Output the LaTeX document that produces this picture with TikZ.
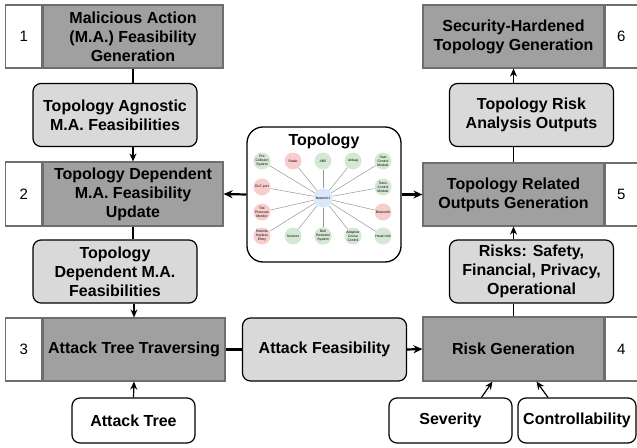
\documentclass[tikz,border=0pt]{standalone}
\usepackage{fontspec}
\setmainfont{Liberation Sans}
\usetikzlibrary{shapes.geometric, arrows.meta, positioning, fit, backgrounds}
\definecolor{stepcolor}{RGB}{160, 160, 160}
\definecolor{stepborder}{RGB}{110, 110, 110}
\definecolor{datacolor}{RGB}{217, 217, 217}
\definecolor{safecolor}{RGB}{213, 232, 212}
\definecolor{unsafecolor}{RGB}{248, 206, 204}
\definecolor{netcolor}{RGB}{218, 232, 252}
\definecolor{spokecolor}{RGB}{150, 150, 150}
\newcommand{\boxfont}{\fontsize{16}{19}\selectfont\bfseries}
\newcommand{\ecufont}{\fontsize{3.4}{3.9}\selectfont}
\tikzstyle{stepbox} = [rectangle, minimum width=180pt, minimum height=63pt, align=center, draw=stepborder, fill=stepcolor, line width=1.2pt, font=\boxfont]
\tikzstyle{numcell} = [rectangle, minimum width=36pt, minimum height=63pt, draw=stepborder, fill=white, line width=1.2pt, font=\fontsize{15}{18}\selectfont]
\tikzstyle{databox} = [rectangle, rounded corners=8pt, minimum width=164pt, minimum height=63pt, align=center, draw=black, fill=datacolor, line width=1.2pt, font=\boxfont]
\tikzstyle{inputbox} = [rectangle, rounded corners=8pt, minimum width=123pt, minimum height=45pt, align=center, draw=black, fill=white, line width=1.2pt, font=\boxfont]
\tikzstyle{topobox} = [rectangle, rounded corners=16pt, minimum width=154pt, minimum height=135pt, draw=black, line width=1.3pt]
\tikzstyle{ecu} = [circle, minimum size=17pt, inner sep=0pt, align=center, font=\ecufont]
\tikzstyle{spoke} = [spokecolor, line width=0.5pt]
\tikzstyle{link} = [line width=1.2pt]
\tikzstyle{arrow} = [line width=1.2pt, -{Stealth[length=8pt, width=7pt]}]
\tikzstyle{bigarrow} = [line width=2.2pt, -{Stealth[length=9pt, width=8pt]}]

\begin{document}
\begin{tikzpicture}[x=1pt, y=-1pt]
\useasboundingbox (0,0) rectangle (637,447);

% Colonne gauche
\node (step1) [stepbox] at (133,36.5) {Malicious Action\\(M.A.) Feasibility\\Generation};
\node (num1) [numcell, left=0pt of step1] {1};
\node (ta) [databox] at (115,115) {Topology Agnostic\\M.A. Feasibilities};
\node (step2) [stepbox, minimum height=64pt] at (133,194) {Topology Dependent\\M.A. Feasibility\\Update};
\node (num2) [numcell, minimum height=64pt, left=0pt of step2] {2};
\node (td) [databox] at (115,271.5) {Topology\\Dependent M.A.\\Feasibilities};
\node (step3) [stepbox, minimum width=182pt] at (134,349.5) {Attack Tree Traversing};
\node (num3) [numcell, left=0pt of step3] {3};
\node (atree) [inputbox] at (133.5,420.5) {Attack Tree};

% Milieu
\node (afeas) [databox] at (324.5,349.5) {Attack Feasibility};
\node (topo) [topobox] at (324,194.5) {};
\node (topotitle) [font=\boxfont] at (324,141) {Topology};

% Topologie
\node (net) [ecu, fill=netcolor, minimum size=19pt] at (323,198) {Network1};
\node (pcs) [ecu, fill=safecolor] at (262,161) {Pre\\Collision\\System};
\node (radio) [ecu, fill=unsafecolor] at (293,161) {Radio};
\node (abs) [ecu, fill=safecolor] at (323,161) {ABS};
\node (airbag) [ecu, fill=safecolor] at (353,161) {Airbag};
\node (seat) [ecu, fill=safecolor] at (383,161) {Seat\\Control\\Module};
\node (dlc) [ecu, fill=unsafecolor] at (262,187) {DLC port};
\node (tcm) [ecu, fill=safecolor] at (383,187) {Trans.\\Control\\Module};
\node (tpm) [ecu, fill=unsafecolor] at (262,212) {Tire\\Pressure\\Monitor};
\node (bt) [ecu, fill=unsafecolor] at (383,212) {Bluetooth};
\node (rke) [ecu, fill=unsafecolor] at (262,236) {Remote\\Keyless\\Entry};
\node (sensors) [ecu, fill=safecolor] at (293,236) {Sensors};
\node (brs) [ecu, fill=safecolor] at (323,236) {Belt\\Restraint\\System};
\node (acc) [ecu, fill=safecolor] at (353,236) {Adaptive\\Cruise\\Control};
\node (hu) [ecu, fill=safecolor] at (383,236) {Head Unit};
\foreach \n in {pcs, radio, abs, airbag, seat, dlc, tcm, tpm, bt, rke, sensors, brs, acc, hu}
  \draw [spoke] (net) -- (\n);

% Colonne droite
\node (step6) [stepbox, minimum width=181pt] at (513.5,36.5) {Security-Hardened\\Topology Generation};
\node (num6) [numcell, minimum width=32pt, right=0pt of step6] {6};
\node (tra) [databox] at (531.5,115) {Topology Risk\\Analysis Outputs};
\node (step5) [stepbox, minimum width=181pt] at (513.5,194.5) {Topology Related\\Outputs Generation};
\node (num5) [numcell, minimum width=32pt, right=0pt of step5] {5};
\node (risks) [databox] at (531.5,271.5) {Risks: Safety,\\Financial, Privacy,\\Operational};
\node (step4) [stepbox, minimum width=181pt, minimum height=64pt] at (513.5,349) {Risk Generation};
\node (num4) [numcell, minimum width=32pt, minimum height=64pt, right=0pt of step4] {4};
\node (sev) [inputbox] at (450.5,420.5) {Severity};
\node (ctrl) [inputbox, minimum width=118pt] at (577,420.5) {Controllability};

% Flèches
\draw [link] (step1.south) -- (step1.south |- ta.north);
\draw [arrow] (step2.north |- ta.south) -- (step2.north);
\draw [link] (step2.south) -- (step2.south |- td.north);
\draw [arrow] (step3.north |- td.south) -- (step3.north);
\draw [arrow] (atree.north) -- (step3.south);
\draw [line width=2.2pt] (step3.east) -- (afeas.west);
\draw [bigarrow] (afeas.east) -- (step4.west);
\draw [arrow] ([xshift=31pt]sev.north) -- ([xshift=-21pt]step4.south);
\draw [arrow] ([xshift=-29pt]ctrl.north) -- ([xshift=23pt]step4.south);
\draw [link] (step4.north) -- (step4.north |- risks.south);
\draw [arrow] (step5.south |- risks.north) -- (step5.south);
\draw [link] (step5.north) -- (step5.north |- tra.south);
\draw [arrow] (step6.south |- tra.north) -- (step6.south);
\draw [bigarrow] (topo.west) -- (step2.east);
\draw [bigarrow] (topo.east) -- (step5.west);

\end{tikzpicture}
\end{document}
